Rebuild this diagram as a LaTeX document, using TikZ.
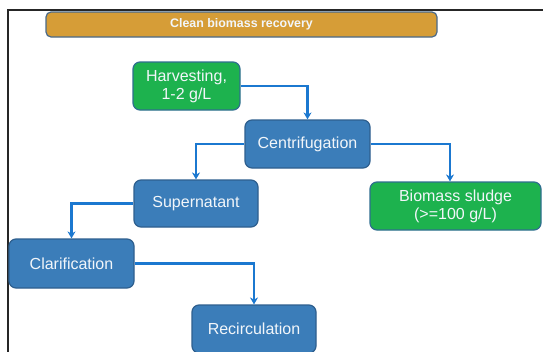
\documentclass[tikz,border=0pt]{standalone}
\usepackage{fontspec}
\setmainfont{Liberation Sans}
\usetikzlibrary{arrows.meta}
\definecolor{titlefill}{HTML}{D69D37}
\definecolor{titledraw}{HTML}{4A6A8A}
\definecolor{greenfill}{HTML}{1DB24E}
\definecolor{greendraw}{HTML}{2F6E8F}
\definecolor{bluefill}{HTML}{3B7DB9}
\definecolor{bluedraw}{HTML}{2E5F8E}
\definecolor{arrowcol}{HTML}{1B78D0}
\definecolor{txt}{HTML}{F2F6FA}
\begin{document}
\begin{tikzpicture}[x=1pt,y=-1pt,
  box/.style={rounded corners=7pt, line width=1.2pt, text=txt, align=center,
    font=\fontsize{16}{18}\selectfont, inner sep=0pt},
  bluebox/.style={box, fill=bluefill, draw=bluedraw},
  greenbox/.style={box, fill=greenfill, draw=greendraw},
  titlebox/.style={rounded corners=5pt, line width=1.2pt, fill=titlefill, draw=titledraw,
    text=txt, font=\fontsize{12.4}{14}\selectfont\bfseries, inner sep=0pt},
  conn/.style={draw=arrowcol, line width=2.2pt, -{Stealth[length=7pt,width=8pt]}},
  frameline/.style={draw=black!85, line width=2pt}
]
\useasboundingbox (0,0) rectangle (543,351);
\clip (0,0) rectangle (543,351);
\fill[white] (0,0) rectangle (543,351);
\draw[frameline] (8,352) -- (8,10) -- (544,10);

\node[titlebox, minimum width=391pt, minimum height=25pt] (title) at (241.5,24.5) {Clean biomass recovery};

\node[greenbox, minimum width=107pt, minimum height=48pt] (harv) at (186.5,86) {Harvesting,\\1-2 g/L};
\node[bluebox, minimum width=125pt, minimum height=48pt] (cent) at (307.5,144) {Centrifugation};
\node[bluebox, minimum width=124pt, minimum height=47pt] (sup) at (196,203.5) {Supernatant};
\node[greenbox, minimum width=171pt, minimum height=48pt] (bio) at (455.5,206) {Biomass sludge\\(>=100 g/L)};
\node[bluebox, minimum width=125pt, minimum height=49pt] (clar) at (71.5,263.5) {Clarification};
\node[bluebox, minimum width=124pt, minimum height=48pt] (rec) at (254,329) {Recirculation};

\coordinate (bioin) at ([xshift=-5.5pt]bio.north);

\draw[conn] (harv.east) -| (cent.north);
\draw[conn] (cent.west) -| (sup.north);
\draw[conn] (cent.east) -| (bioin);
\draw[conn] (sup.west) -| (clar.north);
\draw[conn] (clar.east) -| (rec.north);
\end{tikzpicture}
\end{document}
